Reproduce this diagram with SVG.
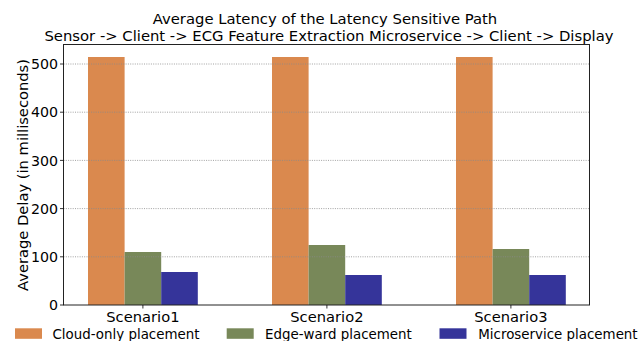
<svg xmlns="http://www.w3.org/2000/svg" width="641" height="341" viewBox="0 0 641 341">
<style>
text{font-family:"DejaVu Sans","Liberation Sans",sans-serif;font-size:14.7px;fill:#000}
.title{font-size:14.8px}
.leg{font-size:13.4px}
.num{font-size:14.2px;text-anchor:end}
.c{fill:#DA894E}.e{fill:#788859}.m{fill:#35349A}
.grid{stroke:#8a8a8a;stroke-width:0.8;stroke-dasharray:1,1.3}
.tick{stroke:#000;stroke-width:0.8}
.mid{text-anchor:middle}
</style>
<rect width="641" height="341" fill="#fff"/>
<g id="title">
<text x="325" y="24" class="mid title">Average Latency of the Latency Sensitive Path</text>
<text x="329" y="40.5" class="mid title">Sensor -&gt; Client -&gt; ECG Feature Extraction Microservice -&gt; Client -&gt; Display</text>
</g>
<g id="bars">
<g id="scenario1">
<rect class="c" x="88" y="57" width="36.6" height="248"/>
<rect class="e" x="124.6" y="252" width="36.6" height="53"/>
<rect class="m" x="161.2" y="272" width="36.6" height="33"/>
</g>
<g id="scenario2">
<rect class="c" x="272" y="57" width="36.6" height="248"/>
<rect class="e" x="308.6" y="245" width="36.6" height="60"/>
<rect class="m" x="345.2" y="275" width="36.6" height="30"/>
</g>
<g id="scenario3">
<rect class="c" x="456" y="57" width="36.6" height="248"/>
<rect class="e" x="492.6" y="249" width="36.6" height="56"/>
<rect class="m" x="529.2" y="275" width="36.6" height="30"/>
</g>
</g>
<g id="gridlines">
<line class="grid" x1="63.5" x2="589.5" y1="64" y2="64"/>
<line class="grid" x1="63.5" x2="589.5" y1="112.2" y2="112.2"/>
<line class="grid" x1="63.5" x2="589.5" y1="160.4" y2="160.4"/>
<line class="grid" x1="63.5" x2="589.5" y1="208.6" y2="208.6"/>
<line class="grid" x1="63.5" x2="589.5" y1="256.8" y2="256.8"/>
</g>
<g id="axes">
<rect x="63.5" y="44.5" width="526" height="260.5" fill="none" stroke="#222" stroke-width="1"/>
<line class="tick" x1="60" x2="63.5" y1="305" y2="305"/>
<line class="tick" x1="60" x2="63.5" y1="256.8" y2="256.8"/>
<line class="tick" x1="60" x2="63.5" y1="208.6" y2="208.6"/>
<line class="tick" x1="60" x2="63.5" y1="160.4" y2="160.4"/>
<line class="tick" x1="60" x2="63.5" y1="112.2" y2="112.2"/>
<line class="tick" x1="60" x2="63.5" y1="64" y2="64"/>
<line class="tick" x1="142.9" x2="142.9" y1="305" y2="308.5"/>
<line class="tick" x1="326.9" x2="326.9" y1="305" y2="308.5"/>
<line class="tick" x1="510.9" x2="510.9" y1="305" y2="308.5"/>
<text class="num" x="58" y="310.2">0</text>
<text class="num" x="58" y="262">100</text>
<text class="num" x="58" y="213.8">200</text>
<text class="num" x="58" y="165.6">300</text>
<text class="num" x="58" y="117.4">400</text>
<text class="num" x="58" y="69.2">500</text>
<text class="mid" x="142.9" y="322">Scenario1</text>
<text class="mid" x="326.9" y="322">Scenario2</text>
<text class="mid" x="510.9" y="322">Scenario3</text>
<text class="mid" x="27.5" y="175" transform="rotate(-90 27.5 175)">Average Delay (in milliseconds)</text>
</g>
<g id="legend">
<rect class="c" x="15" y="328.3" width="27" height="10.5"/>
<text class="leg" x="52.5" y="338.5">Cloud-only placement</text>
<rect class="e" x="226.7" y="328.3" width="27" height="10.5"/>
<text class="leg" x="265" y="338.5">Edge-ward placement</text>
<rect class="m" x="439.5" y="328.3" width="27" height="10.5"/>
<text class="leg" x="478.3" y="338.5">Microservice placement</text>
</g>
</svg>
